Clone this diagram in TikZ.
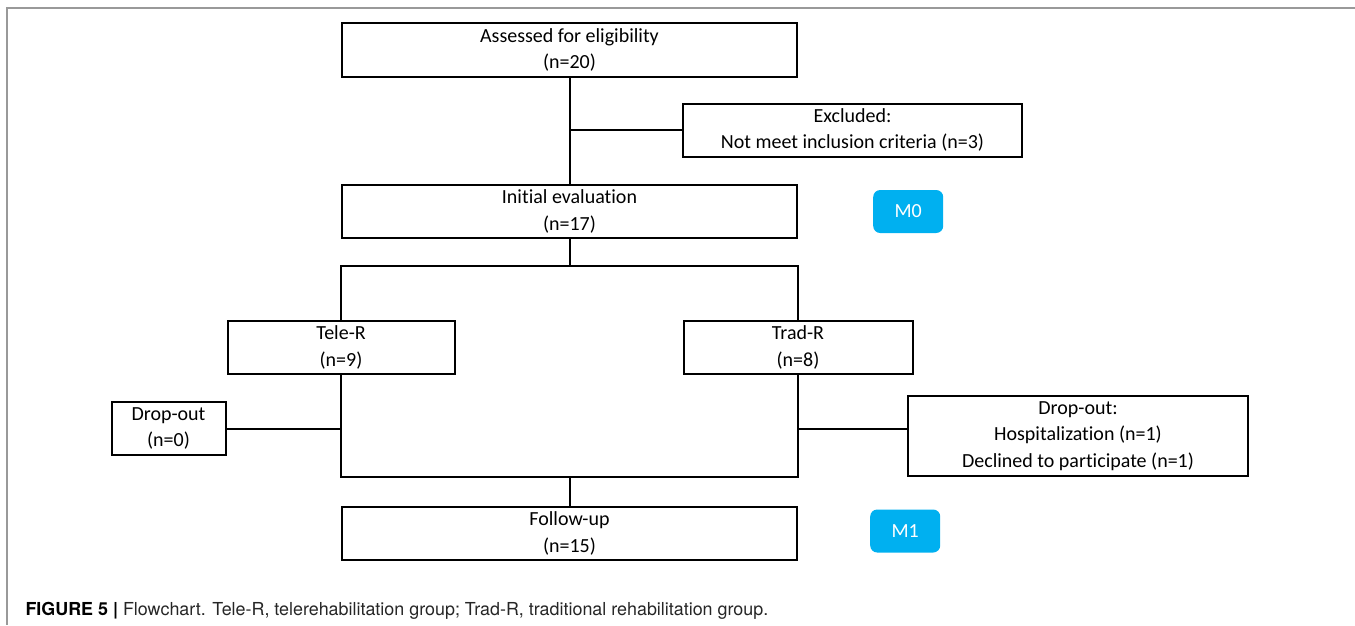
\documentclass[tikz,border=0pt]{standalone}
\usepackage{fontspec}
\setmainfont{Carlito}[Ligatures=NoCommon]
\newfontfamily\capfont{TeX Gyre Heros}
\usetikzlibrary{positioning, calc}
\definecolor{stagecol}{RGB}{0,176,240}

\begin{document}
\begin{tikzpicture}[x=1pt, y=1pt,
node distance= 26pt and 75pt,
     base/.style = {draw, line width=2pt, align=center,
                    inner sep=0pt, font=\fontsize{20}{26.5}\selectfont},
      box/.style = {base, minimum height=53pt},
     wide/.style = {box, minimum width=455pt},
    stage/.style = {fill=stagecol, text=white, rounded corners=7pt,
                    minimum width=70pt, minimum height=43pt,
                    font=\fontsize{20}{22}\selectfont},
     link/.style = {line width=2pt}
                    ]
\useasboundingbox (0,0) rectangle (1355,-625);
\draw[gray!80, line width=1.5pt] (1355,-8) -- (7,-8) -- (7,-625);
 % main
\node (assess)  [wide, minimum height=54pt] at (569.5,-50) {Assessed for eligibility\\(n=20)};
\node (init)    [wide, below=106pt of assess]  {Initial evaluation\\(n=17)};
\node (excl)    [box, minimum width=339pt, anchor=west] at (682,-130) {Excluded:\\Not meet inclusion criteria (n=3)};
\node (tele)    [box, minimum width=227pt, below=81pt of init.south west] {Tele-R\\(n=9)};
\node (trad)    [box, minimum width=229pt, below=81pt of init.south east] {Trad-R\\(n=8)};
\node (dropL)   [box, minimum width=114pt, below left=26pt and 0pt of tele.south west] {Drop-out\\(n=0)};
\node (dropR)   [base, minimum width=340pt, minimum height=80pt, anchor=north west] at (907,-395)
                {Drop-out:\\Hospitalization (n=1)\\Declined to participate (n=1)};
\node (follow)  [wide, below=267pt of init] {Follow-up\\(n=15)};
 % stages
\node (m0)      [stage, right=of init]  {M0};
\node (m1)      [stage, right=72pt of follow, yshift=2.5pt] {M1};
 % joints
\coordinate (split) at ($(init.south)+(0,-27)$);
\coordinate (merge) at (follow.north |- dropR.south);

\draw[link] (assess) -- (init);
\draw[link] (assess.south |- excl.west) -- (excl.west);
\draw[link] (init) -- (split);
\draw[link] (tele.north) |- (split) -| (trad.north);
\draw[link] (tele.south) |- (merge) -| (trad.south);
\draw[link] (merge) -- (follow);
\draw[link] (dropL.east) -- (dropL.east -| tele.south);
\draw[link] (trad.south |- dropL.east) -- (dropR.west |- dropL.east);

\node (caption) [anchor=base west, text=black!85, font=\capfont\fontsize{17.9}{20}\selectfont]
      at (22,-615) {\textbf{\color{black}FIGURE 5 |} Flowchart. Tele-R, telerehabilitation group; Trad-R, traditional rehabilitation group.};
\end{tikzpicture}
\end{document}
